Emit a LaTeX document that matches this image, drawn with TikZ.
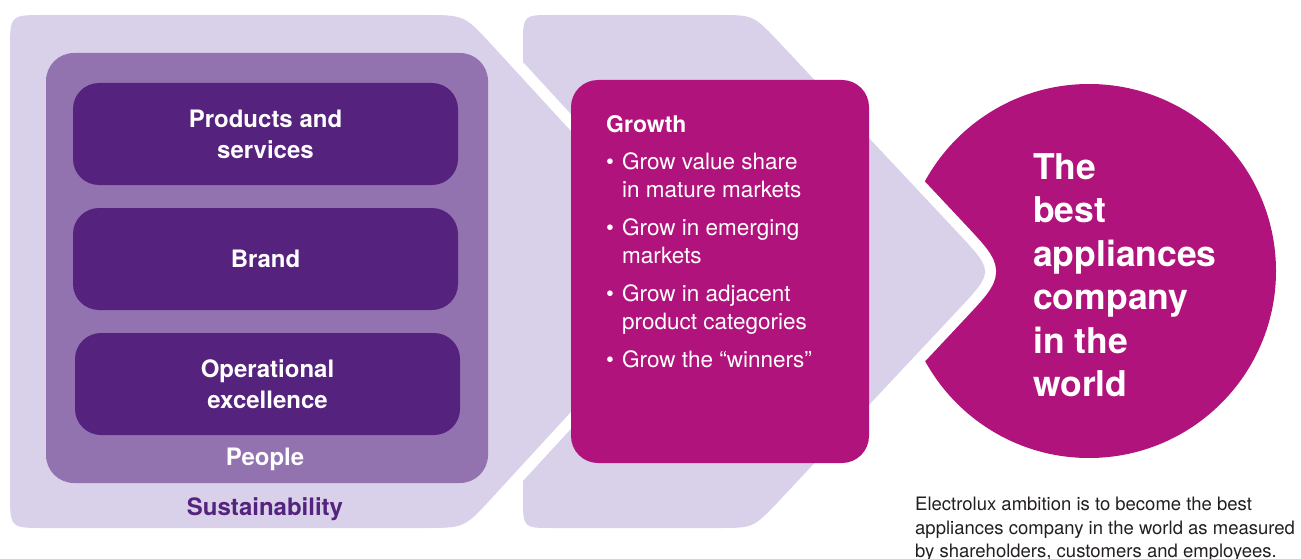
\documentclass[tikz,border=0pt]{standalone}
\usepackage{fontspec}
\setmainfont{TeX Gyre Heros}
\usepackage{tikz}
\usetikzlibrary{positioning}
\definecolor{ChevronLilac}{HTML}{D8D1E9}
\definecolor{PeopleViolet}{HTML}{9273B0}
\definecolor{PillarPurple}{HTML}{55237E}
\definecolor{GrowthMagenta}{HTML}{B0137B}
\definecolor{CaptionGrey}{HTML}{231F20}
\tikzset{
  chevron/.style={fill=ChevronLilac},
  peoplebox/.style={rectangle, rounded corners=28pt, fill=PeopleViolet, minimum width=442pt, minimum height=430pt},
  pillarbox/.style={rectangle, rounded corners=26pt, fill=PillarPurple, text=white, minimum width=385pt, minimum height=102pt, font=\fontsize{24}{31}\selectfont\bfseries, align=center},
  growthbox/.style={rectangle, rounded corners=27pt, fill=GrowthMagenta, minimum width=298pt, minimum height=383pt},
  goalcircle/.style={circle, fill=GrowthMagenta, minimum size=374pt, inner sep=0pt},
  whitelabel/.style={text=white, font=\fontsize{24}{31}\selectfont\bfseries, inner sep=0pt},
  bulletlist/.style={text=white, font=\fontsize{22.5}{28.5}\selectfont, align=left, inner sep=0pt},
  goaltext/.style={text=white, font=\fontsize{35.5}{43.5}\selectfont\bfseries, align=left, inner sep=0pt},
  captiontext/.style={text=CaptionGrey, font=\fontsize{18.5}{23.5}\selectfont, align=left, inner sep=0pt}
}
\newcommand{\growbullet}{\makebox[16pt][l]{\textbullet}}

\begin{document}
\begin{tikzpicture}[x=1pt, y=-1pt]
  \useasboundingbox (0,0) rectangle (1301,559);

  \node[goalcircle] (goal) at (1089,271) {};

  \fill[chevron] (10,50) .. controls (10,15) .. (45,15) -- (423,15) .. controls (464,15) .. (490,43) -- (700,271.5) -- (490,500) .. controls (464,528) .. (423,528) -- (45,528) .. controls (10,528) .. (10,493) -- cycle;
  \fill[chevron, preaction={draw=white, line width=22pt}] (523,62) -- (523,45) .. controls (523,15) .. (553,15) -- (718,15) .. controls (753,15) .. (777,40) -- (958,233) .. controls (994,271.5) .. (958,310) -- (777,503) .. controls (753,528) .. (718,528) -- (553,528) .. controls (523,528) .. (523,498) -- (523,481) -- (716,271.5) -- cycle;

  \node[peoplebox] (people) at (267,268) {};
  \node[pillarbox] (products) at (265.5,134) {Products and\\services};
  \node[pillarbox] (brand) at (265.5,259) {Brand};
  \node[pillarbox] (operations) at (267.5,384) {Operational\\excellence};
  \node[whitelabel, anchor=base] (peoplelabel) at (265,465) {People};
  \node[whitelabel, anchor=base, text=PillarPurple] (sustainability) at (265,515) {Sustainability};

  \node[growthbox] (growth) at (720,271.5) {};
  \node[bulletlist, anchor=north west] (growthlist) at (606,115) {{\fontsize{23}{28.5}\selectfont\bfseries Growth}\\[8.5pt]
    \growbullet Grow value share\\
    \hspace*{16pt}in mature markets\\[9pt]
    \growbullet Grow in emerging\\
    \hspace*{16pt}markets\\[9pt]
    \growbullet Grow in adjacent\\
    \hspace*{16pt}product categories\\[9pt]
    \growbullet Grow the ``winners''};

  \node[goaltext, anchor=north west] (goaltxt) at (1033,153) {The\\best\\appliances\\company\\in the\\world};

  \node[captiontext, anchor=north west] (caption) at (915,497) {Electrolux ambition is to become the best\\appliances company in the world as measured\\by shareholders, customers and employees.};
\end{tikzpicture}
\end{document}
